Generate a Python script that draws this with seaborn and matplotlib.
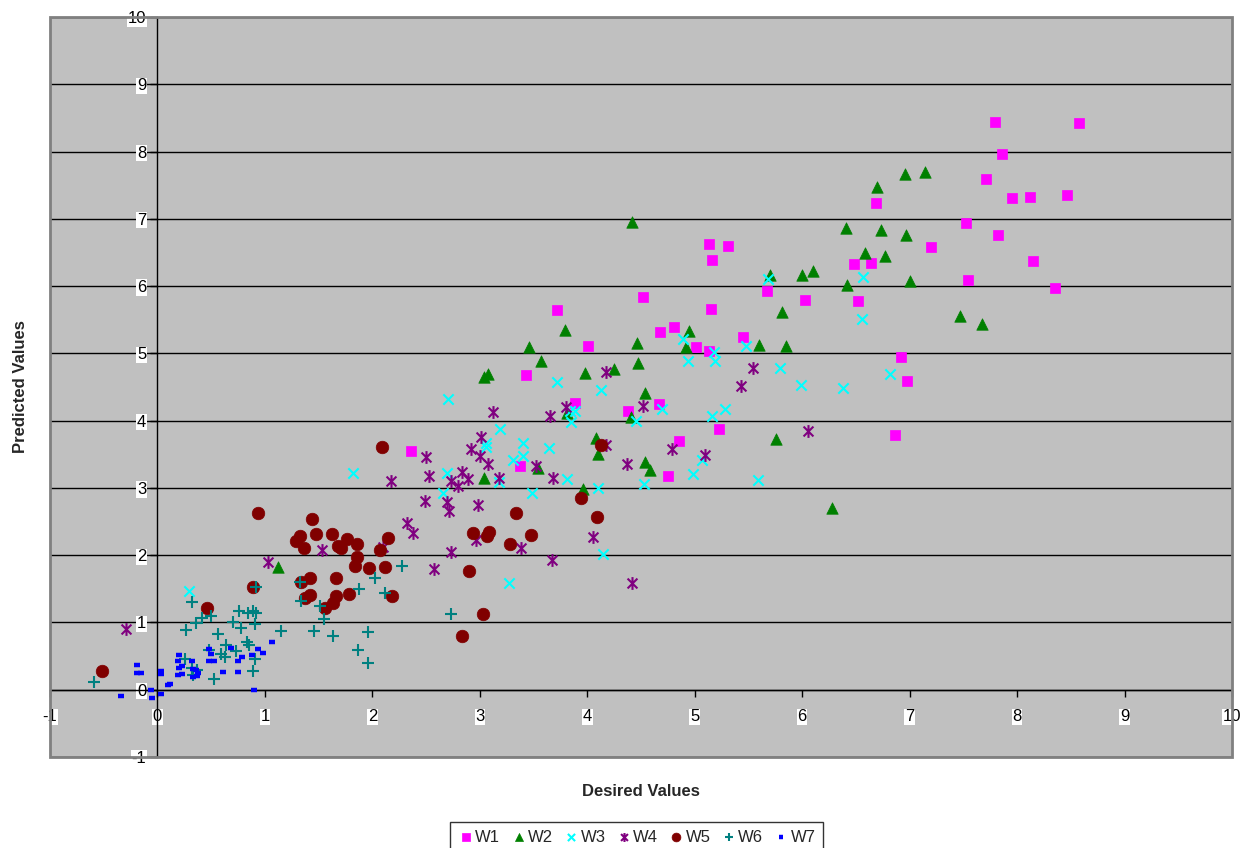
import numpy as np
import pandas as pd
import matplotlib
matplotlib.use("Agg")
import matplotlib.pyplot as plt
from matplotlib.path import Path
from matplotlib.patches import Rectangle
import seaborn as sns

# Values

w1_x = [5.13, 5.31, 5.16, 4.52, 3.72, 5.15, 5.67, 4.68, 4.81, 5.01, 5.13, 5.45, 4.01, 3.43, 3.89,
        4.38, 4.67, 5.23, 4.85, 3.37, 4.75, 2.36, 7.79, 8.58, 7.86, 7.71, 7.95, 8.12, 8.46, 6.69,
        7.52, 7.82, 7.20, 6.48, 6.64, 8.15, 7.54, 8.35, 6.03, 6.52, 6.92, 6.98, 6.86]
w1_y = [6.63, 6.60, 6.39, 5.84, 5.65, 5.66, 5.93, 5.32, 5.39, 5.10, 5.04, 5.25, 5.11, 4.68, 4.26,
        4.15, 4.24, 3.88, 3.70, 3.33, 3.18, 3.55, 8.44, 8.43, 7.96, 7.59, 7.31, 7.33, 7.35, 7.24,
        6.94, 6.76, 6.58, 6.33, 6.35, 6.37, 6.09, 5.97, 5.79, 5.78, 4.95, 4.59, 3.79]

w2_x = [4.42, 5.70, 3.79, 3.46, 3.57, 3.04, 3.08, 3.98, 4.25, 4.46, 4.47, 4.54, 4.95, 4.92, 5.60,
        5.76, 4.41, 3.81, 4.08, 4.10, 4.54, 4.58, 3.54, 3.04, 3.96, 6.96, 7.14, 6.70, 6.41, 6.73,
        6.97, 6.58, 6.77, 6.00, 6.10, 6.42, 7.00, 5.81, 7.47, 7.67, 5.85, 6.28, 1.12]
w2_y = [6.95, 6.17, 5.35, 5.10, 4.88, 4.65, 4.69, 4.71, 4.77, 5.16, 4.86, 4.41, 5.33, 5.10, 5.13,
        3.73, 4.06, 4.12, 3.74, 3.51, 3.39, 3.26, 3.30, 3.14, 2.99, 7.67, 7.70, 7.47, 6.87, 6.84,
        6.76, 6.49, 6.45, 6.17, 6.23, 6.02, 6.08, 5.62, 5.56, 5.44, 5.11, 2.70, 1.83]

w3_x = [5.68, 4.89, 4.94, 5.18, 5.19, 5.48, 2.70, 3.72, 4.13, 3.84, 3.89, 3.85, 4.45, 4.70, 5.16,
        5.28, 3.19, 3.06, 3.06, 3.40, 3.64, 3.40, 3.31, 2.69, 2.66, 3.18, 3.49, 3.81, 4.10, 4.53,
        4.98, 5.07, 5.59, 5.79, 6.56, 6.57, 5.99, 6.38, 6.82, 1.82, 4.15, 3.27, 0.29]
w3_y = [6.11, 5.21, 4.89, 5.02, 4.89, 5.11, 4.32, 4.58, 4.46, 4.15, 4.15, 3.98, 4.00, 4.17, 4.07,
        4.17, 3.87, 3.67, 3.61, 3.67, 3.60, 3.48, 3.42, 3.22, 2.93, 3.09, 2.93, 3.13, 3.00, 3.06,
        3.21, 3.42, 3.12, 4.78, 5.51, 6.13, 4.53, 4.49, 4.70, 3.22, 2.02, 1.59, 1.47]

w4_x = [4.17, 5.54, 5.43, 3.12, 3.65, 3.80, 4.52, 4.17, 4.79, 5.10, 4.37, 3.01, 2.92, 3.00, 3.08,
        2.50, 2.53, 2.17, 2.83, 2.73, 2.89, 2.80, 3.18, 3.52, 3.68, 6.05, 2.49, 2.69, 2.71, 2.98,
        2.32, 2.38, 2.10, 1.53, 1.03, 2.73, 2.96, 3.38, 3.67, 2.57, 4.05, 4.42, -0.29]
w4_y = [4.72, 4.78, 4.51, 4.13, 4.07, 4.21, 4.22, 3.64, 3.58, 3.49, 3.36, 3.76, 3.58, 3.48, 3.36,
        3.46, 3.18, 3.11, 3.24, 3.11, 3.13, 3.03, 3.15, 3.33, 3.15, 3.85, 2.81, 2.79, 2.66, 2.75,
        2.48, 2.33, 2.12, 2.08, 1.90, 2.05, 2.23, 2.10, 1.93, 1.80, 2.27, 1.59, 0.91]

w5_x = [2.09, 0.94, 1.44, 1.33, 1.29, 1.36, 1.48, 1.62, 1.76, 1.68, 1.71, 1.86, 2.15, 2.07, 1.86,
        1.84, 1.97, 2.12, 1.42, 1.66, 1.34, 0.89, 1.42, 1.37, 1.66, 1.78, 2.18, 1.56, 1.63, 0.46,
        3.34, 2.94, 3.09, 3.07, 3.28, 3.48, 2.90, 3.03, 2.83, 3.94, 4.09, 4.13, -0.52]
w5_y = [3.61, 2.63, 2.54, 2.28, 2.21, 2.11, 2.31, 2.32, 2.24, 2.14, 2.11, 2.17, 2.26, 2.08, 1.98,
        1.84, 1.81, 1.83, 1.66, 1.66, 1.60, 1.52, 1.41, 1.37, 1.40, 1.43, 1.40, 1.22, 1.29, 1.22,
        2.63, 2.33, 2.35, 2.28, 2.17, 2.30, 1.77, 1.13, 0.80, 2.85, 2.57, 3.64, 0.28]

w6_x = [-0.59, 0.32, 0.27, 0.36, 0.41, 0.50, 0.56, 0.70, 0.76, 0.78, 0.84, 0.89, 0.92, 0.91, 0.92,
        1.15, 0.83, 0.85, 0.64, 0.73, 0.48, 0.59, 0.63, 0.26, 0.32, 0.91, 0.89, 0.53, 0.33, 0.37,
        1.34, 1.51, 1.55, 1.46, 1.63, 1.88, 2.12, 1.96, 1.87, 1.96, 2.28, 2.02, 1.33, 2.73]
w6_y = [0.11, 1.31, 0.89, 0.99, 1.06, 1.10, 0.83, 1.01, 1.17, 0.92, 1.14, 1.17, 1.14, 0.98, 1.52,
        0.88, 0.71, 0.67, 0.67, 0.58, 0.59, 0.53, 0.49, 0.46, 0.33, 0.46, 0.28, 0.16, 0.22, 0.30,
        1.32, 1.25, 1.05, 0.88, 0.80, 1.50, 1.44, 0.86, 0.59, 0.40, 1.84, 1.66, 1.60, 1.13]

w7_x = [-0.34, -0.19, -0.19, -0.15, -0.06, -0.05, 0.03, 0.03, 0.03, 0.10, 0.12, 0.20, 0.19, 0.20,
        0.23, 0.19, 0.23, 0.32, 0.33, 0.33, 0.36, 0.38, 0.37, 0.48, 0.50, 0.48, 0.53, 0.61, 0.68,
        0.75, 0.75, 0.79, 0.88, 0.94, 0.98, 1.07, 0.90]
w7_y = [-0.10, 0.37, 0.25, 0.25, -0.01, -0.13, -0.07, 0.28, 0.24, 0.07, 0.09, 0.51, 0.42, 0.33,
        0.36, 0.22, 0.24, 0.42, 0.31, 0.19, 0.30, 0.25, 0.21, 0.61, 0.53, 0.42, 0.43, 0.27, 0.62,
        0.43, 0.27, 0.49, 0.51, 0.61, 0.55, 0.71, -0.01]

series_names = ["W1", "W2", "W3", "W4", "W5", "W6", "W7"]
ticks = list(range(-1, 11))

# Excel-like asterisk: an x with a vertical bar
asterisk = Path(
    [(-1, -1), (1, 1), (-1, 1), (1, -1), (0, -1.3), (0, 1.3)],
    [Path.MOVETO, Path.LINETO, Path.MOVETO, Path.LINETO, Path.MOVETO, Path.LINETO],
)

styles = {
    "W1": dict(marker="s", color="#FF00FF", s=62, filled=True),
    "W2": dict(marker="^", color="#008000", s=68, filled=True),
    "W3": dict(marker="x", color="#00FFFF", s=55, filled=False),
    "W4": dict(marker=asterisk, color="#800080", s=85, filled=False),
    "W5": dict(marker="o", color="#800000", s=82, filled=True),
    "W6": dict(marker="+", color="#008080", s=70, filled=False),
    "W7": dict(marker="_", color="#0000FF", s=25, filled=False),
}

data = {
    "W1": (w1_x, w1_y), "W2": (w2_x, w2_y), "W3": (w3_x, w3_y), "W4": (w4_x, w4_y),
    "W5": (w5_x, w5_y), "W6": (w6_x, w6_y), "W7": (w7_x, w7_y),
}

sns.set_theme(style="white")
plt.rcParams["font.family"] = ["Liberation Sans", "DejaVu Sans"]
plt.rcParams["axes.unicode_minus"] = False

fig = plt.figure(figsize=(12.46, 8.48), dpi=100)
ax = fig.add_axes([50 / 1246, 1 - 757 / 848, 1182 / 1246, 740 / 848])
ax.set_facecolor("#C0C0C0")

for name in series_names:
    xs, ys = data[name]
    st = styles[name]
    df = pd.DataFrame({"x": xs, "y": ys})
    if st["filled"]:
        sns.scatterplot(data=df, x="x", y="y", marker=st["marker"], color=st["color"],
                        s=st["s"], edgecolor=st["color"], linewidth=0.5, ax=ax, label=name,
                        zorder=3)
    else:
        lw = 3.2 if name == "W7" else 1.5
        sns.scatterplot(data=df, x="x", y="y", marker=st["marker"], color=st["color"],
                        edgecolor=st["color"], s=st["s"], linewidth=lw, ax=ax, label=name,
                        zorder=3)

ax.set_xlim(-1, 10)
ax.set_ylim(-1, 10)
ax.set_xticks(ticks)
ax.set_yticks(ticks)

# horizontal gridlines only
ax.yaxis.grid(True, color="black", linewidth=1)
ax.xaxis.grid(False)
ax.set_axisbelow(True)

# axes crossing at zero, Excel style
for side in ["top", "right"]:
    ax.spines[side].set_visible(False)
ax.spines["left"].set_position(("data", 0))
ax.spines["bottom"].set_position(("data", 0))
ax.spines["left"].set_color("black")
ax.spines["bottom"].set_color("black")
ax.spines["left"].set_linewidth(1)
ax.spines["bottom"].set_linewidth(1)
ax.add_patch(Rectangle((0, 0), 1, 1, transform=ax.transAxes, fill=False,
                       edgecolor="#808080", linewidth=2, clip_on=False, zorder=5))

ax.tick_params(axis="both", which="both", direction="out", length=5, width=1,
               color="black", labelsize=12, labelcolor="black", left=True, bottom=True)
ax.tick_params(axis="x", pad=9)
ax.tick_params(axis="y", pad=3)
for lab in ax.get_xticklabels() + ax.get_yticklabels():
    lab.set_bbox(dict(facecolor="white", edgecolor="none", pad=0.5))

ax.set_xlabel("Desired Values", fontsize=12, fontweight="bold")
ax.set_ylabel("Predicted Values", fontsize=12, fontweight="bold")
ax.xaxis.set_label_coords(0.5, -0.036)
ax.yaxis.set_label_coords(-0.019, 0.5)

handles, labels = ax.get_legend_handles_labels()
ax.get_legend().remove()
leg = fig.legend(handles, labels, loc="upper center", bbox_to_anchor=(0.511, 1 - 822 / 848),
                 ncol=7, fontsize=12, frameon=True, fancybox=False, edgecolor="black",
                 handletextpad=0.05, columnspacing=0.6, handlelength=1.0, markerscale=0.7,
                 borderpad=0.45, borderaxespad=0)
leg.get_frame().set_linewidth(1)

fig.savefig("out.png", dpi=100)
